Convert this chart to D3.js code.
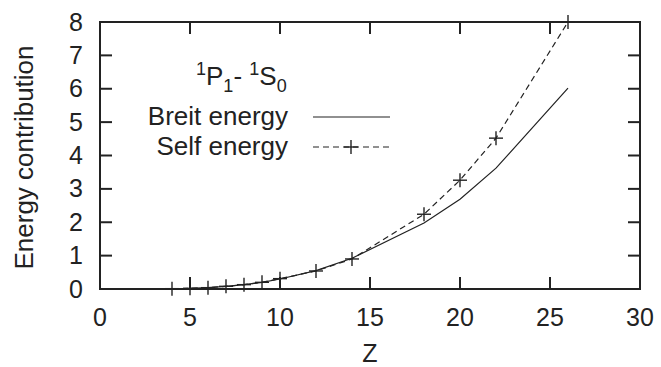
<!DOCTYPE html>
<html><head><meta charset="utf-8">
<script src="https://cdn.jsdelivr.net/npm/d3@7"></script>
<style>body{margin:0;background:#fff}svg text{font-family:"Liberation Sans",Arial,sans-serif;fill:#222}</style>
</head><body><svg id="c" width="661" height="367"></svg>
<script>
const zValues = [4,5,6,7,8,9,10,12,14,18,20,22,26];
const selfEnergy = [0.01,0.02,0.04,0.08,0.13,0.2,0.31,0.54,0.9,2.24,3.26,4.52,8.0];
const breitZ = [5,6,7,8,9,10,12,14,18,20,22,26];
const breitEnergy = [0.02,0.04,0.08,0.13,0.2,0.3,0.55,0.92,1.98,2.69,3.62,6.02];
const xTicks = [0,5,10,15,20,25,30];
const yTicks = [0,1,2,3,4,5,6,7,8];

const svg = d3.select("#c");
const L=100,R=640,T=22,B=289;
const x = d3.scaleLinear().domain([0,30]).range([L,R]);
const y = d3.scaleLinear().domain([0,8]).range([B,T]);
const tk = 12;
const FS = 25;
const ax = svg.append("g").attr("stroke","#222").attr("stroke-width",2);
xTicks.forEach(t=>{
  if(t>0&&t<30){
    ax.append("line").attr("x1",x(t)).attr("x2",x(t)).attr("y1",B).attr("y2",B-tk);
    ax.append("line").attr("x1",x(t)).attr("x2",x(t)).attr("y1",T).attr("y2",T+tk);
  }
  svg.append("text").attr("x",x(t)).attr("y",B+37).attr("text-anchor","middle").attr("font-size",FS).text(t);
});
yTicks.forEach(t=>{
  if(t>0&&t<8){
    ax.append("line").attr("x1",L).attr("x2",L+tk).attr("y1",y(t)).attr("y2",y(t));
    ax.append("line").attr("x1",R).attr("x2",R-tk).attr("y1",y(t)).attr("y2",y(t));
  }
  svg.append("text").attr("x",L-17).attr("y",y(t)+8.5).attr("text-anchor","end").attr("font-size",FS).text(t);
});
ax.append("rect").attr("x",L).attr("y",T).attr("width",R-L).attr("height",B-T).attr("fill","none");

svg.append("text").attr("x",x(15)).attr("y",362).attr("text-anchor","middle").attr("font-size",FS).text("Z");
svg.append("text").attr("transform",`translate(33,${(T+B)/2+2}) rotate(-90)`).attr("text-anchor","middle").attr("font-size",26).text("Energy contribution");

const line = d3.line().x(d=>x(d[0])).y(d=>y(d[1]));
svg.append("path").datum(breitZ.map((z,i)=>[z,breitEnergy[i]])).attr("d",line)
  .attr("fill","none").attr("stroke","#222").attr("stroke-width",1.2);
const sd = zValues.map((z,i)=>[z,selfEnergy[i]]);
svg.append("path").datum(sd).attr("d",line)
  .attr("fill","none").attr("stroke","#222").attr("stroke-width",1.2).attr("stroke-dasharray","6,4");
const ms = 7;
const mk = svg.append("g").attr("stroke","#222").attr("stroke-width",1.4);
sd.forEach(d=>{
  mk.append("line").attr("x1",x(d[0])-ms).attr("x2",x(d[0])+ms).attr("y1",y(d[1])).attr("y2",y(d[1]));
  mk.append("line").attr("x1",x(d[0])).attr("x2",x(d[0])).attr("y1",y(d[1])-ms).attr("y2",y(d[1])+ms);
});

// title
const tt = svg.append("text").attr("x",196).attr("y",85).attr("font-size",26);
tt.append("tspan").attr("font-size",18).attr("dy",-10).text("1");
tt.append("tspan").attr("dy",10).text("P");
tt.append("tspan").attr("font-size",18).attr("dy",7).text("1");
tt.append("tspan").attr("dy",-7).text("- ");
tt.append("tspan").attr("font-size",18).attr("dy",-10).text("1");
tt.append("tspan").attr("dy",10).text("S");
tt.append("tspan").attr("font-size",18).attr("dy",7).text("0");

// legend
svg.append("text").attr("x",288).attr("y",125).attr("text-anchor","end").attr("font-size",26).text("Breit energy");
svg.append("text").attr("x",288).attr("y",155).attr("text-anchor","end").attr("font-size",26).text("Self energy");
svg.append("line").attr("x1",313).attr("x2",390).attr("y1",117).attr("y2",117).attr("stroke","#222").attr("stroke-width",1.2);
svg.append("line").attr("x1",313).attr("x2",390).attr("y1",147).attr("y2",147).attr("stroke","#222").attr("stroke-width",1.2).attr("stroke-dasharray","6,4");
mk.append("line").attr("x1",351-ms).attr("x2",351+ms).attr("y1",147).attr("y2",147);
mk.append("line").attr("x1",351).attr("x2",351).attr("y1",147-ms).attr("y2",147+ms);
</script></body></html>
